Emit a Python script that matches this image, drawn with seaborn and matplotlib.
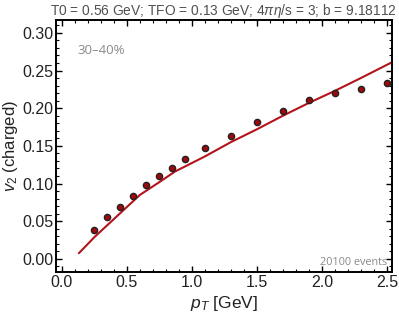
import matplotlib
matplotlib.use("Agg")
import matplotlib.pyplot as plt
from matplotlib.ticker import MultipleLocator, FormatStrFormatter
import seaborn as sns
import pandas as pd

# data points (v2 charged)
pt_data = [0.25, 0.35, 0.45, 0.55, 0.65, 0.75, 0.85, 0.95, 1.1, 1.3, 1.5, 1.7, 1.9, 2.1, 2.3, 2.5]
v2_data = [0.039, 0.055, 0.069, 0.084, 0.098, 0.110, 0.120, 0.132, 0.147, 0.163, 0.182, 0.196, 0.211, 0.220, 0.226, 0.233]

# model curve
pt_model = [0.13, 0.25, 0.45, 0.60, 0.75, 0.87, 1.1, 1.3, 1.5, 1.6, 1.7, 1.9, 2.1, 2.3, 2.54]
v2_model = [0.0076, 0.029, 0.061, 0.085, 0.102, 0.116, 0.136, 0.155, 0.172, 0.181, 0.190, 0.207, 0.223, 0.240, 0.261]

title = "T0 = 0.56 GeV; TFO = 0.13 GeV; 4$\\pi\\eta$/s = 3; b = 9.18112"

sns.set_style("ticks")
plt.rcParams['font.family'] = ['Liberation Sans', 'DejaVu Sans']
plt.rcParams['mathtext.fontset'] = 'custom'
plt.rcParams['mathtext.rm'] = 'Liberation Sans'
plt.rcParams['mathtext.it'] = 'Liberation Sans:italic'

fig = plt.figure(figsize=(3.99, 3.23), dpi=100)
ax = fig.add_axes([0.1404, 0.158, 0.8421, 0.780])

df_model = pd.DataFrame({"pt": pt_model, "v2": v2_model})
df_data = pd.DataFrame({"pt": pt_data, "v2": v2_data})

sns.lineplot(data=df_model, x="pt", y="v2", ax=ax, color="#b3141c", linewidth=1.5, sort=False)
sns.scatterplot(data=df_data, x="pt", y="v2", ax=ax, color="#a0080c", edgecolor="#222222",
                linewidth=1.0, s=20, zorder=3)

ax.set_xlim(-0.046, 2.54)
ax.set_ylim(-0.0173, 0.317)
ax.xaxis.set_major_locator(MultipleLocator(0.5))
ax.xaxis.set_minor_locator(MultipleLocator(0.1))
ax.yaxis.set_major_locator(MultipleLocator(0.05))
ax.yaxis.set_minor_locator(MultipleLocator(0.01))
ax.xaxis.set_major_formatter(FormatStrFormatter('%.1f'))
ax.yaxis.set_major_formatter(FormatStrFormatter('%.2f'))
ax.tick_params(which='both', direction='in', top=True, right=True, color='black')
ax.tick_params(which='major', length=4, width=1.0, labelsize=11.5, pad=2, labelcolor='#222222')
ax.tick_params(which='minor', length=2, width=0.8)
for s in ax.spines.values():
    s.set_linewidth(1.4)
    s.set_color('black')

ax.set_xlabel("$p_T$ [GeV]", fontsize=12.5, color='#222222', labelpad=3)
ax.set_ylabel("$v_2$ (charged)", fontsize=12, color='#222222')
ax.yaxis.set_label_coords(-0.108, 0.5)
ax.set_title(title, fontsize=9.9, color='#505050', pad=1.5, loc='right', x=1.013)

ax.text(0.065, 0.865, "30\u201340%", transform=ax.transAxes, fontsize=9.5, color='#8a8a8a',
        family=['Open Sans', 'DejaVu Sans'])
ax.text(0.985, 0.015, "20100 events", transform=ax.transAxes, fontsize=7.8, color='#8a8a8a',
        ha='right', va='bottom', family=['Open Sans', 'DejaVu Sans'])

fig.savefig("out.png", dpi=100)
